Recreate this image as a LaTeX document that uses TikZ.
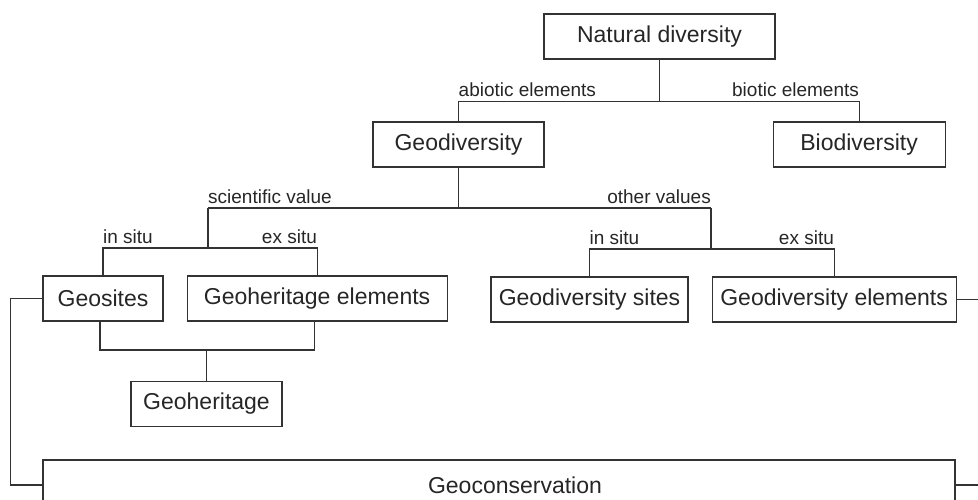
\documentclass[tikz,border=0pt]{standalone}
\usepackage{fontspec}
\setmainfont{Liberation Sans}
\usetikzlibrary{positioning,calc}

\tikzset{
  box/.style={draw=black!80, line width=1.1pt, minimum height=45pt, inner sep=0pt,
    font=\fontsize{23}{27}\selectfont, text=black!85},
  lbl/.style={inner sep=0pt, font=\fontsize{19}{22}\selectfont, text=black!85},
  link/.style={draw=black!80, line width=1.1pt},
}

\begin{document}
\begin{tikzpicture}[x=1pt,y=-1pt]
    \useasboundingbox (0,0) rectangle (978,499);
    \clip (0,0) rectangle (978,499);

    % top levels
    \node[box, minimum width=231pt] (nat) at (659.5,36.5) {Natural diversity};
    \node[box, minimum width=171pt] (geo) at (458.5,144.5) {Geodiversity};
    \node[box, minimum width=172pt, right=228pt of geo] (bio) {Biodiversity};

    % values
    \node[box, minimum width=120pt] (sites) at (103,298.5) {Geosites};
    \node[box, minimum width=260pt, right=23pt of sites] (ghel) {Geoheritage elements};
    \node[box, minimum width=197pt] (gdsites) at (589.5,299.5) {Geodiversity sites};
    \node[box, minimum width=244pt, right=23pt of gdsites] (gdel) {Geodiversity elements};
    \node[box, minimum width=151pt] (gher) at (206.5,404) {Geoheritage};
    \node[box, minimum width=912pt, minimum height=50pt] (cons) at (499,485) {\hspace*{32pt}Geoconservation};

    % natural diversity split
    \draw[link] (nat.south) -- ++(0,42) coordinate (b1);
    \draw[link] (geo.north) |- (b1) -| (bio.north);
    \node[lbl, anchor=base west] (abio) at ($(geo.north |- b1)+(0,-5)$) {abiotic elements};
    \node[lbl, anchor=base east] (biot) at ($(bio.north |- b1)+(0,-5)$) {biotic elements};

    % geodiversity split
    \draw[link] (geo.south) -- ++(0,41) coordinate (b2);
    \coordinate (sci) at (208,208);
    \coordinate (oth) at (711,208);
    \draw[link] (sci) -- (oth);
    \node[lbl, anchor=base west] (lsci) at ($(sci)+(0,-5)$) {scientific value};
    \node[lbl, anchor=base east] (loth) at ($(oth)+(0,-5)$) {other values};

    \coordinate (b3) at (208,248);
    \draw[link] (sci) -- (b3);
    \draw[link] (sites.north) |- (b3) -| (ghel.north);
    \node[lbl, anchor=base west] (in1) at ($(sites.north |- b3)+(0,-5)$) {in situ};
    \node[lbl, anchor=base east] (ex1) at ($(ghel.north |- b3)+(0,-5)$) {ex situ};

    \coordinate (b4) at (711,249);
    \draw[link] (oth) -- (b4);
    \draw[link] (gdsites.north) |- (b4) -| (gdel.north);
    \node[lbl, anchor=base west] (in2) at ($(gdsites.north |- b4)+(0,-5)$) {in situ};
    \node[lbl, anchor=base east] (ex2) at ($(gdel.north |- b4)+(0,-5)$) {ex situ};

    % geoheritage
    \coordinate (b5) at (206.5,350);
    \draw[link] ([xshift=-3pt]sites.south) |- (b5) -| ([xshift=-3pt]ghel.south);
    \draw[link] (b5) -- (gher.north);

    % geoconservation
    \draw[link] (sites.west) -- ++(-32,0) |- (cons.west);
    \draw[link] (gdel.east) -- ++(40,0) |- (cons.east);
\end{tikzpicture}
\end{document}
